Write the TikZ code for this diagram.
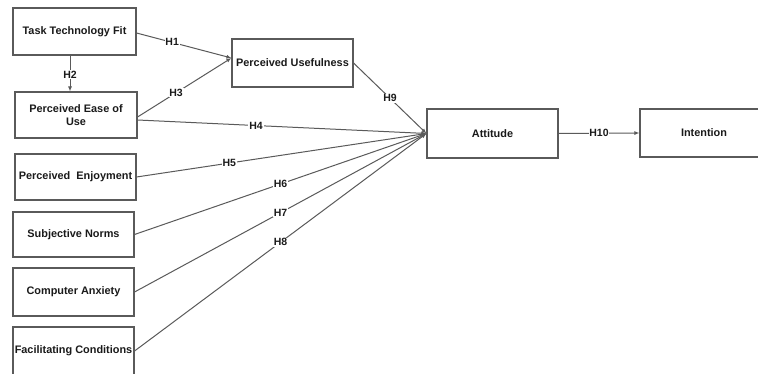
\documentclass[tikz,border=0pt]{standalone}
\usepackage{fontspec}
\setmainfont{Liberation Sans}
\usetikzlibrary{arrows.meta}
\definecolor{edgegray}{HTML}{5A5A5A}
\definecolor{txt}{HTML}{1A1A1A}
\begin{document}
\begin{tikzpicture}[x=1pt,y=-1pt,
  box/.style={draw=edgegray, line width=1.1pt, rectangle, align=center,
    font=\fontsize{10.9}{13}\selectfont\bfseries, text=txt, inner sep=1pt},
  link/.style={draw=edgegray, line width=1pt, -{Latex[length=5pt,width=4pt]}},
  hyp/.style={fill=white, inner sep=0.8pt, font=\fontsize{10.5}{11}\selectfont\bfseries, text=txt}]
\clip (0,0) rectangle (758,374);
\fill[white] (0,0) rectangle (758,374);
\node[box, minimum width=123pt, minimum height=47pt] (ttf) at (74.5,31.5) {Task Technology Fit};
\node[box, minimum width=121pt, minimum height=48pt] (pu) at (292.5,63) {Perceived Usefulness};
\node[box, minimum width=122pt, minimum height=46pt] (peu) at (76,115) {Perceived Ease of\\Use};
\node[box, minimum width=121pt, minimum height=46pt] (pen) at (75.5,177) {Perceived\ \ Enjoyment};
\node[box, minimum width=121pt, minimum height=45pt] (sn) at (73.5,234.5) {Subjective Norms};
\node[box, minimum width=121pt, minimum height=48pt] (ca) at (73.5,292) {Computer Anxiety};
\node[box, minimum width=121pt, minimum height=48pt] (fc) at (73.5,351) {Facilitating Conditions};
\node[box, minimum width=131pt, minimum height=49pt] (att) at (492.5,133.5) {Attitude};
\node[box, minimum width=128pt, minimum height=48pt] (int) at (704,133) {Intention};

\draw[link] ([yshift=-1.5pt]ttf.east) -- node[hyp, pos=0.375] {H1} ([yshift=5pt]pu.west);
\draw[link] ([xshift=-4.5pt]ttf.south) -- node[hyp, pos=0.54] {H2} ([xshift=-4.5pt]ttf.south |- peu.north);
\draw[link] ([yshift=-2pt]peu.east) -- node[hyp, pos=0.41] {H3} ([yshift=5pt]pu.west);
\draw[link] ([yshift=-5pt]peu.east) -- node[hyp, pos=0.41] {H4} (att.west);
\draw[link] (pen.east) -- node[hyp, pos=0.32] {H5} (att.west);
\draw[link] (sn.east) -- node[hyp, pos=0.5] {H6} (att.west);
\draw[link] (ca.east) -- node[hyp, pos=0.5] {H7} (att.west);
\draw[link] (fc.east) -- node[hyp, pos=0.5] {H8} (att.west);
\draw[link] (pu.east) -- node[hyp, pos=0.5] {H9} (att.west);
\draw[link] (att.east) -- node[hyp, pos=0.5] {H10} (int.west);
\end{tikzpicture}
\end{document}
